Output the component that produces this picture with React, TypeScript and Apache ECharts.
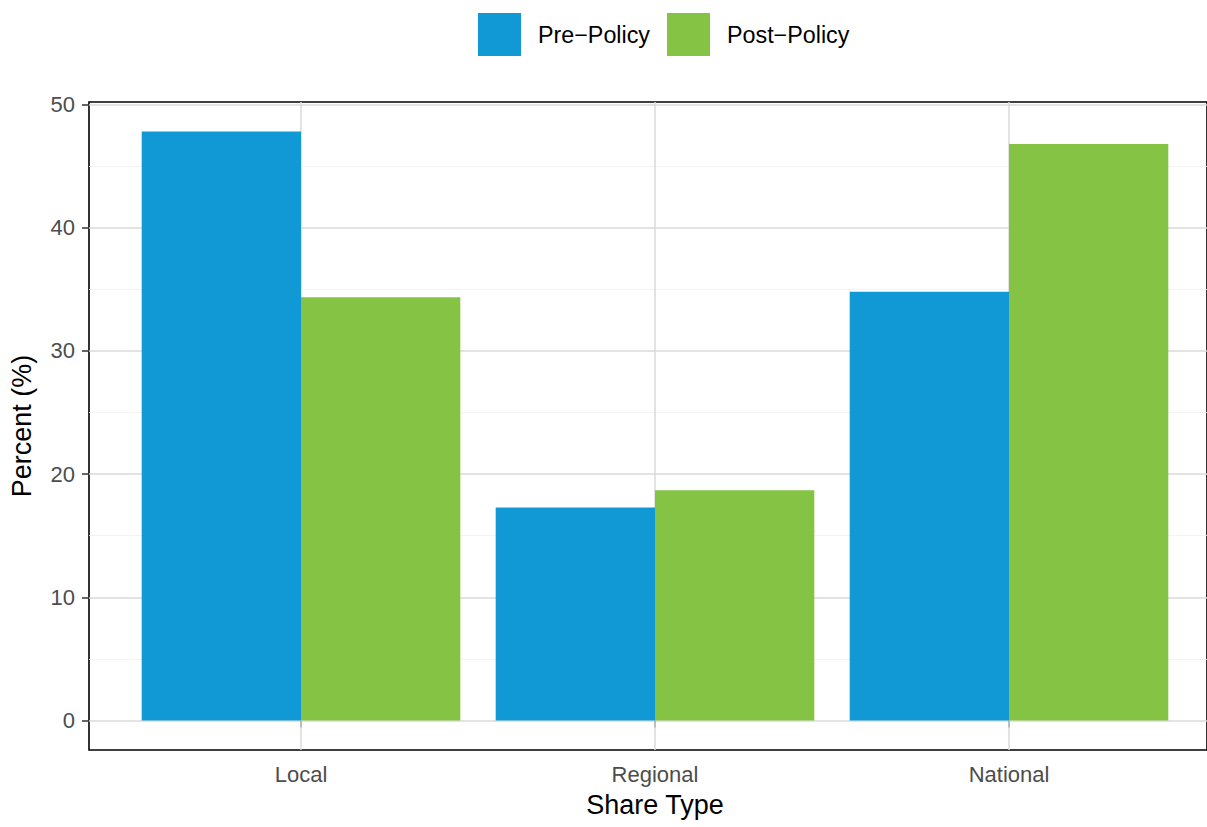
import React, { useEffect, useRef } from "react";
import * as echarts from "echarts";

const categories = ["Local", "Regional", "National"];
const prePolicy = [47.8, 17.3, 34.8];
const postPolicy = [34.35, 18.7, 46.8];
const majorTicks = [0, 10, 20, 30, 40, 50];
const minorTicks = [5, 15, 25, 35, 45];
const seriesNames = ["Pre\u2212Policy", "Post\u2212Policy"];
const yMin = -2.39;
const yMax = 50.2;

const FONT = "'Liberation Sans', Arial, Helvetica, sans-serif";

export default function App() {
  const ref = useRef<HTMLDivElement>(null);
  useEffect(() => {
    if (!ref.current) return;
    const chart = echarts.init(ref.current, null, { renderer: "svg" });
    chart.setOption({
      animation: false,
      backgroundColor: "#ffffff",
      textStyle: { fontFamily: FONT },
      legend: {
        top: 13,
        left: 478,
        padding: 0,
        itemWidth: 43,
        itemHeight: 43,
        itemGap: 17,
        icon: "rect",
        data: seriesNames,
        textStyle: { fontSize: 23.3, color: "#000", fontFamily: FONT, padding: [0, 0, 0, 12] },
      },
      grid: [
        {
          left: 89, top: 102, width: 1133, height: 648,
          show: true, borderColor: "#000", borderWidth: 1.6, backgroundColor: "transparent",
        },
        { left: 124, top: 102, width: 1062, height: 648 },
      ],
      xAxis: [
        { type: "value", gridIndex: 0, min: 0, max: 1, show: false },
        {
          type: "category",
          gridIndex: 1,
          data: categories,
          boundaryGap: true,
          axisLine: { show: false },
          axisTick: { show: true, alignWithLabel: true, length: 7, lineStyle: { color: "#333", width: 1.5 } },
          axisLabel: { fontSize: 22, color: "#4d4d4d", margin: 13, fontFamily: FONT },
          splitLine: { show: false },
          name: "Share Type",
          nameLocation: "middle",
          nameGap: 41,
          nameTextStyle: { fontSize: 27, color: "#000", fontFamily: FONT },
        },
      ],
      yAxis: [
        {
          type: "value",
          gridIndex: 0,
          min: yMin,
          max: yMax,
          axisLine: { show: false },
          axisTick: { show: true, length: 7, customValues: majorTicks, lineStyle: { color: "#333", width: 1.5 } },
          axisLabel: { fontSize: 22, color: "#4d4d4d", margin: 14, customValues: majorTicks, fontFamily: FONT },
          splitLine: { show: true, lineStyle: { color: "#dadada", width: 1.5 } },
          name: "Percent (%)",
          nameLocation: "middle",
          nameGap: 54,
          nameTextStyle: { fontSize: 27, color: "#000", fontFamily: FONT },
        },
        {
          type: "value",
          gridIndex: 0,
          min: yMin,
          max: yMax,
          axisLine: { show: false },
          axisTick: { show: false, customValues: minorTicks },
          axisLabel: { show: false, customValues: minorTicks },
          splitLine: { show: true, lineStyle: { color: "#f0f0f0", width: 0.8 } },
        },
        {
          type: "value",
          gridIndex: 1,
          min: yMin,
          max: yMax,
          show: false,
          splitLine: { show: false },
        },
      ],
      series: [
        {
          name: "gridlines",
          type: "line",
          xAxisIndex: 1,
          yAxisIndex: 2,
          data: [],
          z: 1,
          silent: true,
          markLine: {
            silent: true,
            symbol: "none",
            z: 1,
            label: { show: false },
            lineStyle: { color: "#dadada", width: 1.5, type: "solid" },
            data: categories.map((c) => ({ xAxis: c })),
          },
        },
        {
          name: seriesNames[0],
          type: "bar",
          xAxisIndex: 1,
          yAxisIndex: 2,
          data: prePolicy,
          barGap: "0%",
          barCategoryGap: "10%",
          itemStyle: { color: "#1199D6" },
          z: 2,
        },
        {
          name: seriesNames[1],
          type: "bar",
          xAxisIndex: 1,
          yAxisIndex: 2,
          data: postPolicy,
          barGap: "0%",
          barCategoryGap: "10%",
          itemStyle: { color: "#84C343" },
          z: 2,
        },
      ],
    });
    return () => chart.dispose();
  }, []);
  return (
    <div
      ref={ref}
      style={{ position: "fixed", left: 0, top: 0, width: 1207, height: 827 }}
    />
  );
}
